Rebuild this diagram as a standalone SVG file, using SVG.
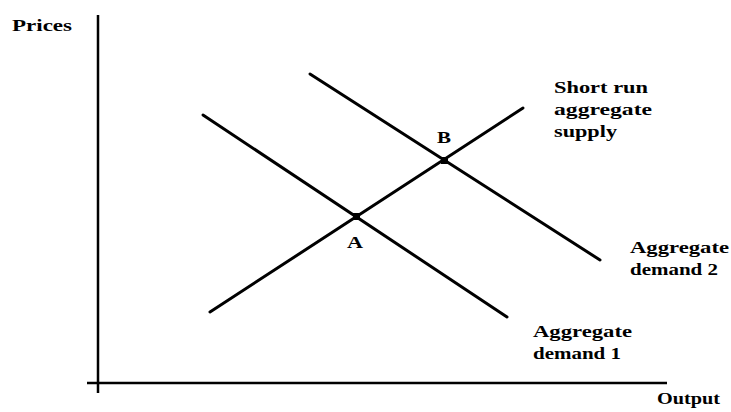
<svg xmlns="http://www.w3.org/2000/svg" width="731" height="412" viewBox="0 0 731 412">
<style>
.ax{stroke:#000;stroke-width:2.5;fill:none}
.cv{stroke:#000;stroke-width:3;fill:none;stroke-linecap:round}
text{font-family:"Liberation Serif","Times New Roman",serif;font-size:17px;font-weight:bold;fill:#000}
</style>
<rect width="731" height="412" fill="#fff"/>
<g id="axes">
<line class="ax" x1="98" y1="15" x2="98" y2="393"/>
<line class="ax" x1="87" y1="383" x2="667" y2="383"/>
<text x="12" y="31" textLength="60" lengthAdjust="spacingAndGlyphs">Prices</text>
<text x="657" y="404" textLength="63" lengthAdjust="spacingAndGlyphs">Output</text>
</g>
<g id="connectors">
<line id="ad1" class="cv" x1="203" y1="115" x2="507" y2="317"/>
<line id="ad2" class="cv" x1="310" y1="74" x2="600" y2="260"/>
<line id="sras" class="cv" x1="210" y1="312" x2="523" y2="108"/>
</g>
<g id="pointA">
<rect x="353" y="213" width="7" height="7" fill="#000"/>
<text x="347" y="248" textLength="16" lengthAdjust="spacingAndGlyphs">A</text>
</g>
<g id="pointB">
<rect x="441" y="157" width="7" height="7" fill="#000"/>
<text x="437" y="143" textLength="14" lengthAdjust="spacingAndGlyphs">B</text>
</g>
<g id="label-sras">
<text x="554" y="93" textLength="94" lengthAdjust="spacingAndGlyphs">Short run</text>
<text x="554" y="115" textLength="98" lengthAdjust="spacingAndGlyphs">aggregate</text>
<text x="554" y="137" textLength="63" lengthAdjust="spacingAndGlyphs">supply</text>
</g>
<g id="label-ad2">
<text x="630" y="253" textLength="99" lengthAdjust="spacingAndGlyphs">Aggregate</text>
<text x="630" y="275" textLength="88" lengthAdjust="spacingAndGlyphs">demand 2</text>
</g>
<g id="label-ad1">
<text x="533" y="337" textLength="99" lengthAdjust="spacingAndGlyphs">Aggregate</text>
<text x="533" y="359" textLength="88" lengthAdjust="spacingAndGlyphs">demand 1</text>
</g>
</svg>
